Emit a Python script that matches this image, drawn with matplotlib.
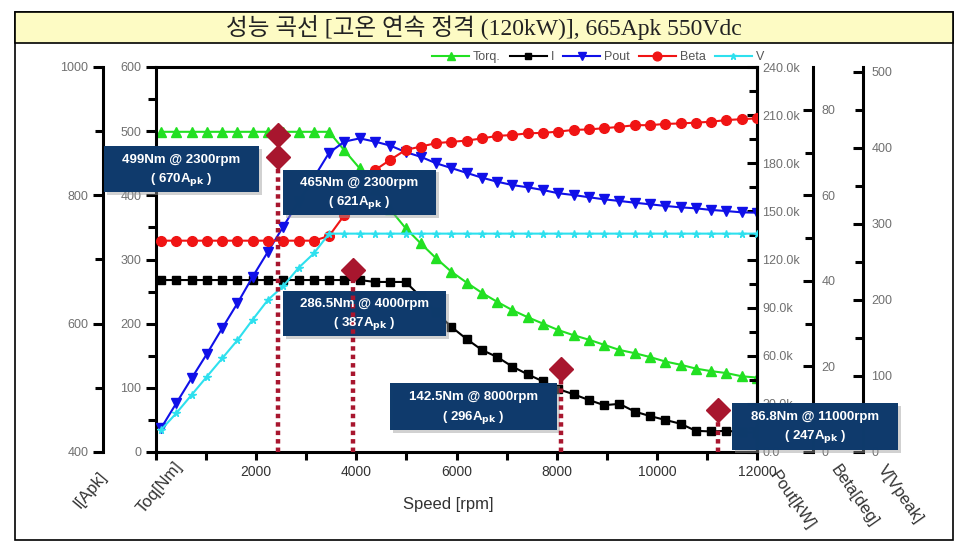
import matplotlib
matplotlib.use('Agg')
import matplotlib.pyplot as plt
import matplotlib.patheffects as pe
from matplotlib.patches import Rectangle
from matplotlib.ticker import MultipleLocator, FuncFormatter, FixedLocator

# speed grid [rpm]
speed = [100, 405, 710, 1015, 1321, 1626, 1931, 2236, 2541, 2846,
         3151, 3456, 3762, 4067, 4372, 4677, 4982, 5287, 5592, 5897,
         6203, 6508, 6813, 7118, 7423, 7728, 8033, 8338, 8644, 8949,
         9254, 9559, 9864, 10169, 10474, 10779, 11085, 11390, 11695, 12000]

# torque [Nm]
torq = [499, 499, 499, 499, 499, 499, 499, 499, 499, 499,
        499, 499, 470, 442, 410, 378, 349, 325, 302, 281,
        264, 248, 234, 221, 210, 200, 190, 182, 175, 167,
        159, 154, 148, 141, 136, 130, 126, 123, 118, 116]

# phase current [Apk]
current = [668, 668, 668, 668, 668, 668, 668, 668, 668, 668,
           668, 668, 668, 668, 665, 665, 665, 642, 618, 595,
           576, 559, 548, 533, 521, 510, 498, 490, 481, 473,
           475, 463, 456, 450, 444, 433, 432, 433, 431, 430]

# output power [kW]
pout = [14.8, 30.4, 45.9, 61.1, 77.1, 92.7, 109.3, 124.9, 140.5, 156.0,
        171.0, 186.5, 193.5, 195.5, 193.5, 191.0, 187.0, 184.0, 180.0, 177.0,
        174.0, 171.0, 168.5, 166.4, 165.0, 163.3, 161.3, 160.2, 158.8, 157.5,
        156.5, 155.4, 154.4, 153.4, 152.5, 151.9, 150.9, 150.2, 149.4, 149.2]

# current angle [deg]
beta = [49.4, 49.4, 49.4, 49.4, 49.4, 49.4, 49.4, 49.4, 49.4, 49.4,
        49.4, 50.5, 55.4, 60.8, 65.9, 68.3, 70.6, 71.4, 72.2, 72.5,
        72.8, 73.3, 73.9, 74.1, 74.5, 74.6, 74.9, 75.3, 75.4, 75.7,
        76.0, 76.4, 76.4, 76.7, 76.8, 77.0, 77.2, 77.6, 77.8, 78.0]

# phase voltage [Vpeak]
volt = [29, 51, 75, 99, 123, 147, 174, 200, 218, 242,
        261, 287, 287, 287, 287, 287, 287, 287, 287, 287,
        287, 287, 287, 287, 287, 287, 287, 287, 287, 287,
        287, 287, 287, 287, 287, 287, 287, 287, 287, 287]

# operating point markers (as placed in the picture)
mark_rpm = [2440, 2440, 3930, 8090, 11230]
mark_torq = [494, 460, 284, 129, 65]
mark_text = ['499Nm @ 2300rpm', '465Nm @ 2300rpm', '286.5Nm @ 4000rpm',
             '142.5Nm @ 8000rpm', '86.8Nm @ 11000rpm']
mark_amps = ['670', '621', '387', '296', '247']
# label boxes: left rpm, right rpm, bottom Nm, top Nm
box_pos = [(-1040, 2060, 405, 477),
           (2540, 5590, 369, 440),
           (2540, 5790, 181, 251),
           (4670, 8010, 34, 107),
           (11500, 14820, 3, 76)]

title = '성능 곡선 [고온 연속 정격 (120kW)], 665Apk 550Vdc'

W, H = 968, 547
fig = plt.figure(figsize=(W / 100, H / 100), dpi=100)
plt.rcParams['font.family'] = ['Liberation Sans', 'DejaVu Sans']

# frame + title band
fig.patches.append(Rectangle((15 / W, 1 - 540 / H), 938 / W, 528 / H, transform=fig.transFigure,
                             fill=False, edgecolor='black', linewidth=1.2))
fig.patches.append(Rectangle((15 / W, 1 - 43 / H), 938 / W, 31 / H, transform=fig.transFigure,
                             facecolor='#fdfbc4', edgecolor='black', linewidth=1.2))
fig.text(484 / W, 1 - 28 / H, title, ha='center', va='center', fontsize=17,
         family=['Liberation Serif', 'Noto Sans CJK KR'], color='#222222')

left, right, top, bottom = 156, 757, 67, 452
pos = [left / W, 1 - bottom / H, (right - left) / W, (bottom - top) / H]
ax = fig.add_axes(pos)

tick_col = '#707070'
spw = 2.2

def style_axis(a, side, direction):
    for s in a.spines.values():
        s.set_visible(False)
    a.spines[side].set_visible(True)
    a.spines[side].set_linewidth(spw)
    a.yaxis.set_ticks_position(side)
    a.tick_params(axis='y', which='both', direction=direction, width=spw, colors='black',
                  labelcolor=tick_col, labelsize=9)
    a.tick_params(axis='y', which='major', length=7)
    a.tick_params(axis='y', which='minor', length=6)

# torque axis (main)
ln_t, = ax.plot(speed, torq, color='#22e022', marker='^', ms=6.5, lw=1.5, label='Torq.')
ax.set_xlim(0, 12000)
ax.set_ylim(0, 600)
for s in ax.spines.values():
    s.set_linewidth(spw)
ax.yaxis.set_major_locator(MultipleLocator(100))
ax.yaxis.set_minor_locator(MultipleLocator(50))
ax.tick_params(axis='y', which='both', direction='out', width=spw, labelcolor=tick_col, labelsize=9)
ax.tick_params(axis='y', which='major', length=7)
ax.tick_params(axis='y', which='minor', length=6)
ax.tick_params(axis='y', right=False)
ax.xaxis.set_major_locator(FixedLocator([2000, 4000, 6000, 8000, 10000, 12000]))
ax.xaxis.set_minor_locator(MultipleLocator(1000))
ax.tick_params(axis='x', which='both', direction='out', width=spw, length=6,
               labelcolor='#333333', labelsize=10, top=False)

# current axis (outer left)
ax_i = ax.twinx()
ln_i, = ax_i.plot(speed, current, color='black', marker='s', ms=5.5, lw=1.5, label='I')
ax_i.set_ylim(400, 1000)
style_axis(ax_i, 'left', 'out')
ax_i.yaxis.set_label_position('left')
ax_i.spines['left'].set_position(('axes', -53 / (right - left)))
ax_i.yaxis.set_major_locator(MultipleLocator(200))
ax_i.yaxis.set_minor_locator(MultipleLocator(100))

# power axis (right spine)
ax_p = ax.twinx()
ln_p, = ax_p.plot(speed, pout, color='#1010e8', marker='v', ms=7, lw=1.5, label='Pout')
ax_p.set_ylim(0, 240)
style_axis(ax_p, 'right', 'in')
ax_p.yaxis.set_major_locator(MultipleLocator(30))
ax_p.yaxis.set_minor_locator(MultipleLocator(15))
ax_p.yaxis.set_major_formatter(FuncFormatter(lambda v, p: '0.0' if v == 0 else '%.1fk' % v))
ax_p.tick_params(axis='y', pad=4)

# beta axis
ax_b = ax.twinx()
ln_b, = ax_b.plot(speed, beta, color='#f01414', marker='o', ms=7, lw=1.5, label='Beta')
ax_b.set_ylim(0, 90)
style_axis(ax_b, 'right', 'in')
ax_b.spines['right'].set_position(('axes', 1 + 56 / (right - left)))
ax_b.yaxis.set_major_locator(FixedLocator([0, 20, 40, 60, 80]))
ax_b.yaxis.set_minor_locator(FixedLocator([10, 30, 50, 70]))
ax_b.tick_params(axis='y', pad=6)

# voltage axis
ax_v = ax.twinx()
ln_v, = ax_v.plot(speed, volt, color='#2ee0ee', marker='*', ms=5.5, lw=1.5, label='V')
ax_v.set_ylim(0, 506)
style_axis(ax_v, 'right', 'in')
ax_v.spines['right'].set_position(('axes', 1 + 106 / (right - left)))
ax_v.yaxis.set_major_locator(FixedLocator([0, 100, 200, 300, 400, 500]))
ax_v.yaxis.set_minor_locator(FixedLocator([50, 150, 250, 350, 450]))
ax_v.tick_params(axis='y', pad=6)

# overlay for markers and label boxes
ov = fig.add_axes(pos, zorder=10)
ov.set_xlim(0, 12000)
ov.set_ylim(0, 600)
ov.axis('off')
ov.patch.set_alpha(0)
mk_col = '#a8162e'
for r, t in zip(mark_rpm[1:], mark_torq[1:]):
    ov.plot([r, r], [0, t], color=mk_col, lw=3.2, linestyle=(0, (1, 0.9)), clip_on=False)
ov.plot(mark_rpm, mark_torq, linestyle='none', marker='D', ms=12, color=mk_col,
        markeredgecolor=mk_col, clip_on=False)
for (x0, x1, y0, y1), txt, amp in zip(box_pos, mark_text, mark_amps):
    rect = Rectangle((x0, y0), x1 - x0, y1 - y0, facecolor='#0e3a6c', edgecolor='none',
                     alpha=0.93, clip_on=False)
    rect.set_path_effects([pe.withSimplePatchShadow(offset=(2, -2), shadow_rgbFace='#9a9a9a',
                                                    alpha=0.45), pe.Normal()])
    ov.add_patch(rect)
    xc = (x0 + x1) / 2
    ov.text(xc, y0 + (y1 - y0) * 0.70, txt, color='white', fontsize=9.5, fontweight='bold',
            ha='center', va='center', clip_on=False)
    ov.text(xc, y0 + (y1 - y0) * 0.28, '( %sA$_{\\mathbf{pk}}$ )' % amp, color='white',
            fontsize=9.5, fontweight='bold', ha='center', va='center', clip_on=False)

# legend
fig.legend(handles=[ln_t, ln_i, ln_p, ln_b, ln_v], loc='center', ncol=5,
           bbox_to_anchor=(598 / W, 1 - 57 / H), frameon=False, fontsize=9,
           labelcolor='#555555', handlelength=3.0, handletextpad=0.3, columnspacing=0.7,
           markerscale=0.9)

# axis titles
lab_col = '#333333'
fig.text(448 / W, 1 - 505 / H, 'Speed [rpm]', ha='center', va='center', fontsize=12, color=lab_col)
fig.text(90 / W, 1 - 490 / H, 'I[Apk]', ha='center', va='center', fontsize=12, color=lab_col, rotation=50)
fig.text(160 / W, 1 - 487 / H, 'Toq[Nm]', ha='center', va='center', fontsize=12, color=lab_col, rotation=50)
fig.text(792 / W, 1 - 500 / H, 'Pout[kW]', ha='center', va='center', fontsize=12, color=lab_col, rotation=-55)
fig.text(854 / W, 1 - 496 / H, 'Beta[deg]', ha='center', va='center', fontsize=12, color=lab_col, rotation=-55)
fig.text(900 / W, 1 - 494 / H, 'V[Vpeak]', ha='center', va='center', fontsize=12, color=lab_col, rotation=-55)

fig.savefig('out.png', dpi=100)
